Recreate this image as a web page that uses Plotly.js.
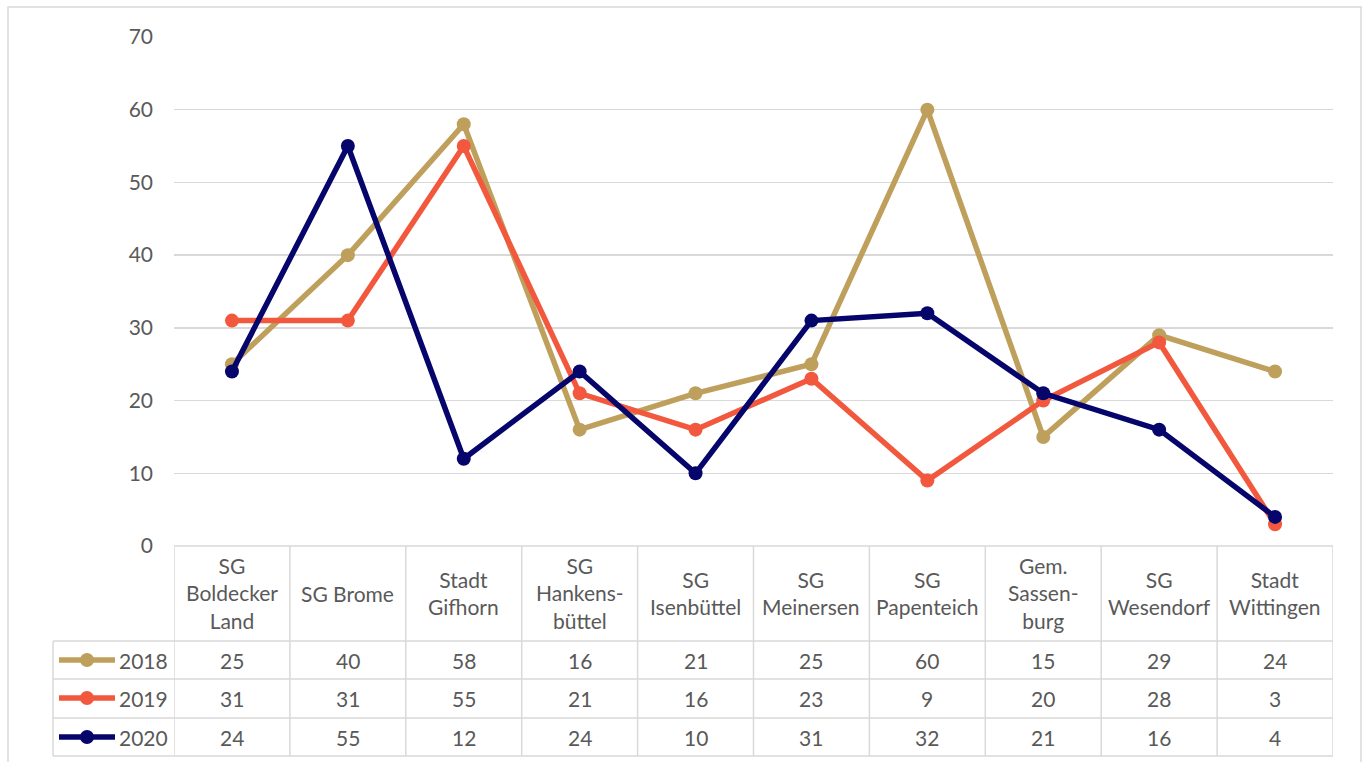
<!DOCTYPE html>
<html><head><meta charset="utf-8">
<script src="https://cdn.plot.ly/plotly-3.0.1.min.js"></script>
<style>html,body{margin:0;padding:0;background:#fff}#chart{width:1365px;height:762px}</style>
</head><body><div id="chart"></div>
<script>
const categories = ["SG<br>Boldecker<br>Land","SG Brome","Stadt<br>Gifhorn","SG<br>Hankens-<br>büttel","SG<br>Isenbüttel","SG<br>Meinersen","SG<br>Papenteich","Gem.<br>Sassen-<br>burg","SG<br>Wesendorf","Stadt<br>Wittingen"];
const seriesNames = ["2018","2019","2020"];
const v2018 = [25,40,58,16,21,25,60,15,29,24];
const v2019 = [31,31,55,21,16,23,9,20,28,3];
const v2020 = [24,55,12,24,10,31,32,21,16,4];
const yTicks = [0,10,20,30,40,50,60,70];

const colors = ["#BEA05C","#F2583E","#05056B"];
const seriesValues = [v2018,v2019,v2020];
const FONT = "Lato, 'Open Sans', sans-serif";
const TXT = "#595959";
const GRID = "#d9d9d9";
const FS = 21;

const W = 1365, H = 762;
const L = 174, R = 1333, T = 37, B = 546;
const pw = R - L, ph = B - T;
const px = x => (x - L) / pw;
const py = y => (B - y) / ph;

const idx = categories.map((c,i)=>i);
const traces = seriesValues.map((vals,k)=>({
  type:'scatter', mode:'lines+markers', x: idx, y: vals, name: seriesNames[k],
  line:{color:colors[k], width:5.5}, marker:{color:colors[k], size:14},
  hoverinfo:'x+y'
}));

const shapes = [];
const annotations = [];
const rowLines = [546, 641, 679, 718, 756];
const rowCenters = [660, 698, 737];
const lc = {color:GRID, width:1.5};
shapes.push({type:'rect', xref:'paper', yref:'paper', x0:px(8), x1:px(1361), y0:py(7), y1:py(775), line:{color:GRID, width:1.5}});
shapes.push({type:'line', xref:'paper', yref:'paper', x0:px(L), x1:px(R), y0:py(546), y1:py(546), line:lc});
for (let i=1;i<rowLines.length;i++){
  shapes.push({type:'line', xref:'paper', yref:'paper', x0:px(53), x1:px(R), y0:py(rowLines[i]), y1:py(rowLines[i]), line:lc});
}
for (let i=0;i<=categories.length;i++){
  shapes.push({type:'line', xref:'x', yref:'paper', x0:i-0.5, x1:i-0.5, y0:py(546), y1:py(756), line:lc});
}
shapes.push({type:'line', xref:'paper', yref:'paper', x0:px(53), x1:px(53), y0:py(641), y1:py(756), line:lc});

categories.forEach((c,i)=>{
  annotations.push({xref:'x', yref:'paper', x:i, y:py(593), text:c, showarrow:false,
    xanchor:'center', yanchor:'middle', align:'center', font:{family:FONT, size:FS, color:TXT}});
});
seriesValues.forEach((vals,k)=>{
  const yc = rowCenters[k];
  shapes.push({type:'line', xref:'paper', yref:'paper', x0:px(59), x1:px(115), y0:py(yc), y1:py(yc), line:{color:colors[k], width:5.5}});
  shapes.push({type:'circle', xref:'paper', yref:'paper', x0:px(80), x1:px(94), y0:py(yc-7), y1:py(yc+7), fillcolor:colors[k], line:{width:0}});
  annotations.push({xref:'paper', yref:'paper', x:px(117), y:py(yc), text:seriesNames[k], showarrow:false,
    xanchor:'left', yanchor:'middle', font:{family:FONT, size:FS, color:TXT}});
  vals.forEach((v,i)=>{
    annotations.push({xref:'x', yref:'paper', x:i, y:py(yc), text:String(v), showarrow:false,
      xanchor:'center', yanchor:'middle', font:{family:FONT, size:FS, color:TXT}});
  });
});

const layout = {
  width:W, height:H, paper_bgcolor:'#fff', plot_bgcolor:'#fff',
  margin:{l:L, r:W-R, t:T, b:H-B, pad:0},
  showlegend:false,
  font:{family:FONT, size:FS, color:TXT},
  xaxis:{range:[-0.5, categories.length-0.5], showticklabels:false, showgrid:false, zeroline:false, showline:false, ticks:'', fixedrange:true},
  yaxis:{range:[0,70], tickvals:yTicks, ticktext:yTicks.map(String), showgrid:true, gridcolor:GRID, gridwidth:1.3,
    zeroline:false, showline:false, ticks:'', ticklabelstandoff:20, tickfont:{family:FONT, size:FS, color:TXT}, fixedrange:true},
  shapes:shapes, annotations:annotations
};
Plotly.newPlot('chart', traces, layout, {displayModeBar:false, staticPlot:true});
</script></body></html>
